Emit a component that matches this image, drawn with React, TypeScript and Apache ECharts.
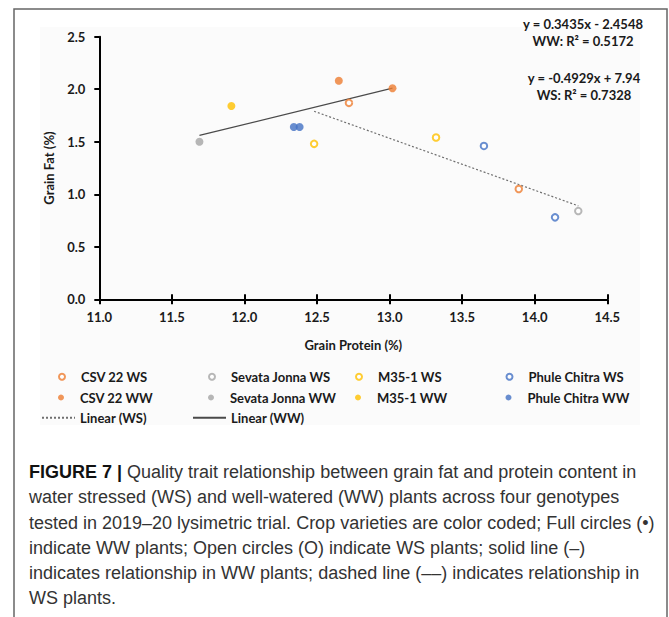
import React, { useEffect, useRef } from "react";
import * as echarts from "echarts";

// Grain protein (%) , grain fat (%) per genotype and treatment
const csv22WS = [[12.72, 1.87], [13.89, 1.05]];
const csv22WW = [[12.65, 2.08], [13.02, 2.01]];
const sevataWS = [[14.30, 0.84]];
const sevataWW = [[11.69, 1.50]];
const m351WS = [[12.48, 1.48], [13.32, 1.54]];
const m351WW = [[11.91, 1.84]];
const phuleWS = [[13.65, 1.46], [14.14, 0.78]];
const phuleWW = [[12.34, 1.64], [12.38, 1.64]];
const linearWS = [[12.48, 1.79], [14.30, 0.89]];
const linearWW = [[11.69, 1.56], [13.02, 2.01]];

const ORANGE = "#ED7D31";
const GRAY = "#A5A5A5";
const YELLOW = "#FFC000";
const BLUE = "#4472C4";

const FONT = "Lato, 'Open Sans', sans-serif";
const CAP_FONT = "'Liberation Sans', Arial, sans-serif";

const captionLines = [
  "water stressed (WS) and well-watered (WW) plants across four genotypes",
  "tested in 2019–20 lysimetric trial. Crop varieties are color coded; Full circles (•)",
  "indicate WW plants; Open circles (O) indicate WS plants; solid line (–)",
  "indicates relationship in WW plants; dashed line (––) indicates relationship in",
  "WS plants.",
];

export default function App() {
  const ref = useRef<HTMLDivElement>(null);
  useEffect(() => {
    if (!ref.current) return;
    const chart = echarts.init(ref.current, null, { renderer: "svg" });

    const scatters = [
      { name: "CSV 22 WS", data: csv22WS, color: ORANGE, open: true, col: 0, row: 0 },
      { name: "CSV 22 WW", data: csv22WW, color: ORANGE, open: false, col: 0, row: 1 },
      { name: "Sevata Jonna WS", data: sevataWS, color: GRAY, open: true, col: 1, row: 0 },
      { name: "Sevata Jonna WW", data: sevataWW, color: GRAY, open: false, col: 1, row: 1 },
      { name: "M35-1 WS", data: m351WS, color: YELLOW, open: true, col: 2, row: 0 },
      { name: "M35-1 WW", data: m351WW, color: YELLOW, open: false, col: 2, row: 1 },
      { name: "Phule Chitra WS", data: phuleWS, color: BLUE, open: true, col: 3, row: 0 },
      { name: "Phule Chitra WW", data: phuleWW, color: BLUE, open: false, col: 3, row: 1 },
    ];
    const colX = [58, 208, 355, 505.5];
    const rowY = [378.3, 399, 419.3];

    const legendText = { fontFamily: FONT, fontWeight: "bold", fontSize: 13, color: "#1a1a1a" };

    const legends: any[] = scatters.map((s) => ({
      left: colX[s.col],
      top: rowY[s.row] - 8,
      orient: "horizontal",
      itemWidth: 28,
      itemHeight: 6,
      padding: 0,
      textStyle: legendText,
      data: [
        {
          name: s.name,
          icon: "circle",
          itemStyle: s.open
            ? { color: "#fff", borderColor: s.color, borderWidth: 2 }
            : { color: s.color, borderWidth: 0 },
        },
      ],
    }));
    legends.push({
      left: 41,
      top: rowY[2] - 8,
      itemWidth: 33,
      itemHeight: 14,
      padding: 0,
      textStyle: legendText,
      data: [{ name: "Linear (WS)", itemStyle: { opacity: 0 } }],
    });
    legends.push({
      left: 192,
      top: rowY[2] - 8,
      itemWidth: 33,
      itemHeight: 14,
      padding: 0,
      textStyle: legendText,
      data: [{ name: "Linear (WW)", itemStyle: { opacity: 0 } }],
    });

    const series: any[] = [
      {
        name: "Linear (WS)",
        type: "line",
        data: linearWS,
        showSymbol: false,
        symbol: "none",
        itemStyle: { color: "#6f6f6f", opacity: 0 },
        lineStyle: { color: "#6f6f6f", width: 1.2, type: [2, 2] },
        z: 1,
      },
      {
        name: "Linear (WW)",
        type: "line",
        data: linearWW,
        showSymbol: false,
        symbol: "none",
        itemStyle: { color: "#4a4a4a", opacity: 0 },
        lineStyle: { color: "#4a4a4a", width: 1.2, type: "solid" },
        z: 1,
      },
      ...scatters.map((s) => ({
        name: s.name,
        type: "scatter",
        data: s.data,
        symbol: "circle",
        symbolSize: s.open ? 6.5 : 8,
        itemStyle: s.open
          ? { color: "#fff", borderColor: s.color, borderWidth: 2 }
          : { color: s.color, borderWidth: 0 },
        z: 3,
      })),
    ];

    const axisLabel = {
      fontFamily: FONT,
      fontWeight: "bold",
      fontSize: 13,
      color: "#1a1a1a",
      formatter: (v: number) => v.toFixed(1),
    };

    chart.setOption({
      animation: false,
      backgroundColor: "#ffffff",
      grid: { left: 99.3, right: 61.7, top: 36.7, bottom: 617 - 299.3 },
      xAxis: [
        {
          type: "value",
          min: 11,
          max: 14.5,
          interval: 0.5,
          name: "Grain Protein (%)",
          nameLocation: "middle",
          nameGap: 39,
          nameTextStyle: { fontFamily: FONT, fontWeight: "bold", fontSize: 13, color: "#1a1a1a" },
          axisLine: { show: true, lineStyle: { color: "#000", width: 2 } },
          axisTick: { show: true, length: 5, lineStyle: { color: "#000", width: 2 } },
          axisLabel: { ...axisLabel, margin: 11 },
          splitLine: { show: false },
        },
        {
          type: "value",
          min: 11,
          max: 14.5,
          interval: 0.5,
          position: "bottom",
          axisLine: { show: false },
          axisTick: { show: true, inside: true, length: 5, lineStyle: { color: "#000", width: 2 } },
          axisLabel: { show: false },
          splitLine: { show: false },
        },
      ],
      yAxis: {
        type: "value",
        min: 0,
        max: 2.5,
        interval: 0.5,
        name: "Grain Fat (%)",
        nameLocation: "middle",
        nameGap: 44,
        nameTextStyle: { fontFamily: FONT, fontWeight: "bold", fontSize: 13, color: "#1a1a1a" },
        axisLine: { show: true, lineStyle: { color: "#000", width: 2 } },
        axisTick: { show: true, length: 5, lineStyle: { color: "#000", width: 2 } },
        axisLabel: { ...axisLabel, margin: 14 },
        splitLine: { show: false },
      },
      legend: legends,
      series,
      graphic: [
        {
          type: "rect",
          shape: { x: 40, y: 27, width: 600, height: 398 },
          style: { fill: "#fbfbfb" },
          z: -10,
          silent: true,
        },
        {
          type: "rect",
          shape: { x: 14, y: 9, width: 653, height: 700 },
          style: { fill: "none", stroke: "#666", lineWidth: 1.5 },
          silent: true,
        },
        {
          type: "text",
          x: 583,
          y: 32.7,
          style: {
            text: "y = 0.3435x - 2.4548\nWW: R² = 0.5172",
            fontFamily: FONT,
            fontWeight: "bold",
            fontSize: 13,
            lineHeight: 16.6,
            fill: "#1a1a1a",
            align: "center",
            verticalAlign: "middle",
          },
        },
        {
          type: "text",
          x: 584,
          y: 86.7,
          style: {
            text: "y = -0.4929x + 7.94\nWS: R² = 0.7328",
            fontFamily: FONT,
            fontWeight: "bold",
            fontSize: 13,
            lineHeight: 16.6,
            fill: "#1a1a1a",
            align: "center",
            verticalAlign: "middle",
          },
        },
        {
          type: "text",
          x: 29,
          y: 472,
          style: {
            text: "{b|FIGURE 7 |} Quality trait relationship between grain fat and protein content in",
            fontFamily: CAP_FONT,
            fontSize: 18,
            fill: "#333",
            verticalAlign: "middle",
            rich: {
              b: { fontFamily: CAP_FONT, fontSize: 18, fontWeight: "bold", fill: "#111" },
            },
          },
        },
        ...captionLines.map((t, i) => ({
          type: "text",
          x: 29,
          y: 497.3 + i * 25.2,
          style: {
            text: t,
            fontFamily: CAP_FONT,
            fontSize: 18,
            fill: "#333",
            verticalAlign: "middle",
          },
        })),
      ],
    });
    return () => chart.dispose();
  }, []);
  return (
    <div
      ref={ref}
      style={{ position: "fixed", left: 0, top: 0, width: 669, height: 617, background: "#fff" }}
    />
  );
}
